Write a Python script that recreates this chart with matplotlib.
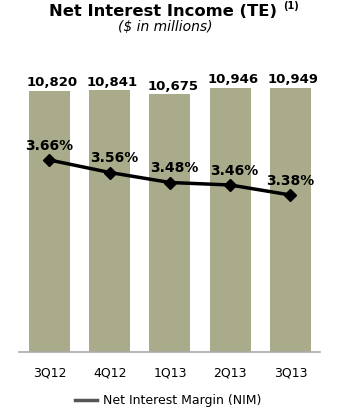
import matplotlib.pyplot as plt
import numpy as np

quarters = ['3Q12', '4Q12', '1Q13', '2Q13', '3Q13']
nii = [10820, 10841, 10675, 10946, 10949]
nim = [3.66, 3.56, 3.48, 3.46, 3.38]

W, H = 354, 410
fig = plt.figure(figsize=(W / 100, H / 100), dpi=100)
# axes box in pixel terms: x 19..320, y 60..353 (from top)
ax = fig.add_axes([19 / W, 1 - 353 / H, 301 / W, 293 / H])

x = np.arange(len(quarters))
ax.bar(x, nii, width=0.68, color='#a9ab8a', zorder=1)
ax.set_xlim(-0.506, 4.49)
ax.set_ylim(0, 12138)

for xi, v in zip(x, nii):
    ax.annotate(f'{v:,}', (xi, v), xytext=(2, 2), textcoords='offset points',
                ha='center', va='bottom', fontsize=9.5, fontweight='bold')

for s in ['top', 'right', 'left']:
    ax.spines[s].set_visible(False)
ax.spines['bottom'].set_color('#aaaaaa')
ax.spines['bottom'].set_linewidth(1.2)
ax.set_yticks([])
ax.set_xticks(x)
ax.set_xticklabels(quarters, fontsize=9)
ax.tick_params(axis='x', length=0, pad=10)

ax2 = ax.twinx()
ax2.set_ylim(2.124, 4.468)
ax2.axis('off')
ax2.plot(x, nim, color='black', lw=2.5, marker='D', markersize=6.5, zorder=3)
for xi, v in zip(x, nim):
    ax2.annotate(f'{v:.2f}%', (xi, v), xytext=(3 if 0 < xi < 4 else 0, 6),
                 textcoords='offset points', ha='center', va='bottom',
                 fontsize=10, fontweight='bold')

fig.text(163 / W, 1 - 11 / H, 'Net Interest Income (TE)', ha='center', va='center',
         fontsize=11.8, fontweight='bold')
fig.text(283 / W, 1 - 6 / H, '(1)', ha='left', va='center',
         fontsize=7, fontweight='bold')
fig.text(165 / W, 1 - 27 / H, '($ in millions)', ha='center', va='center',
         fontsize=10, style='italic')

# legend
fig.lines.append(plt.Line2D([75 / W, 97 / W], [1 - 401 / H, 1 - 401 / H],
                            color='#555555', lw=2.5, transform=fig.transFigure))
fig.text(103 / W, 1 - 401 / H, 'Net Interest Margin (NIM)', ha='left', va='center',
         fontsize=9)

fig.savefig('out.png', dpi=100)
